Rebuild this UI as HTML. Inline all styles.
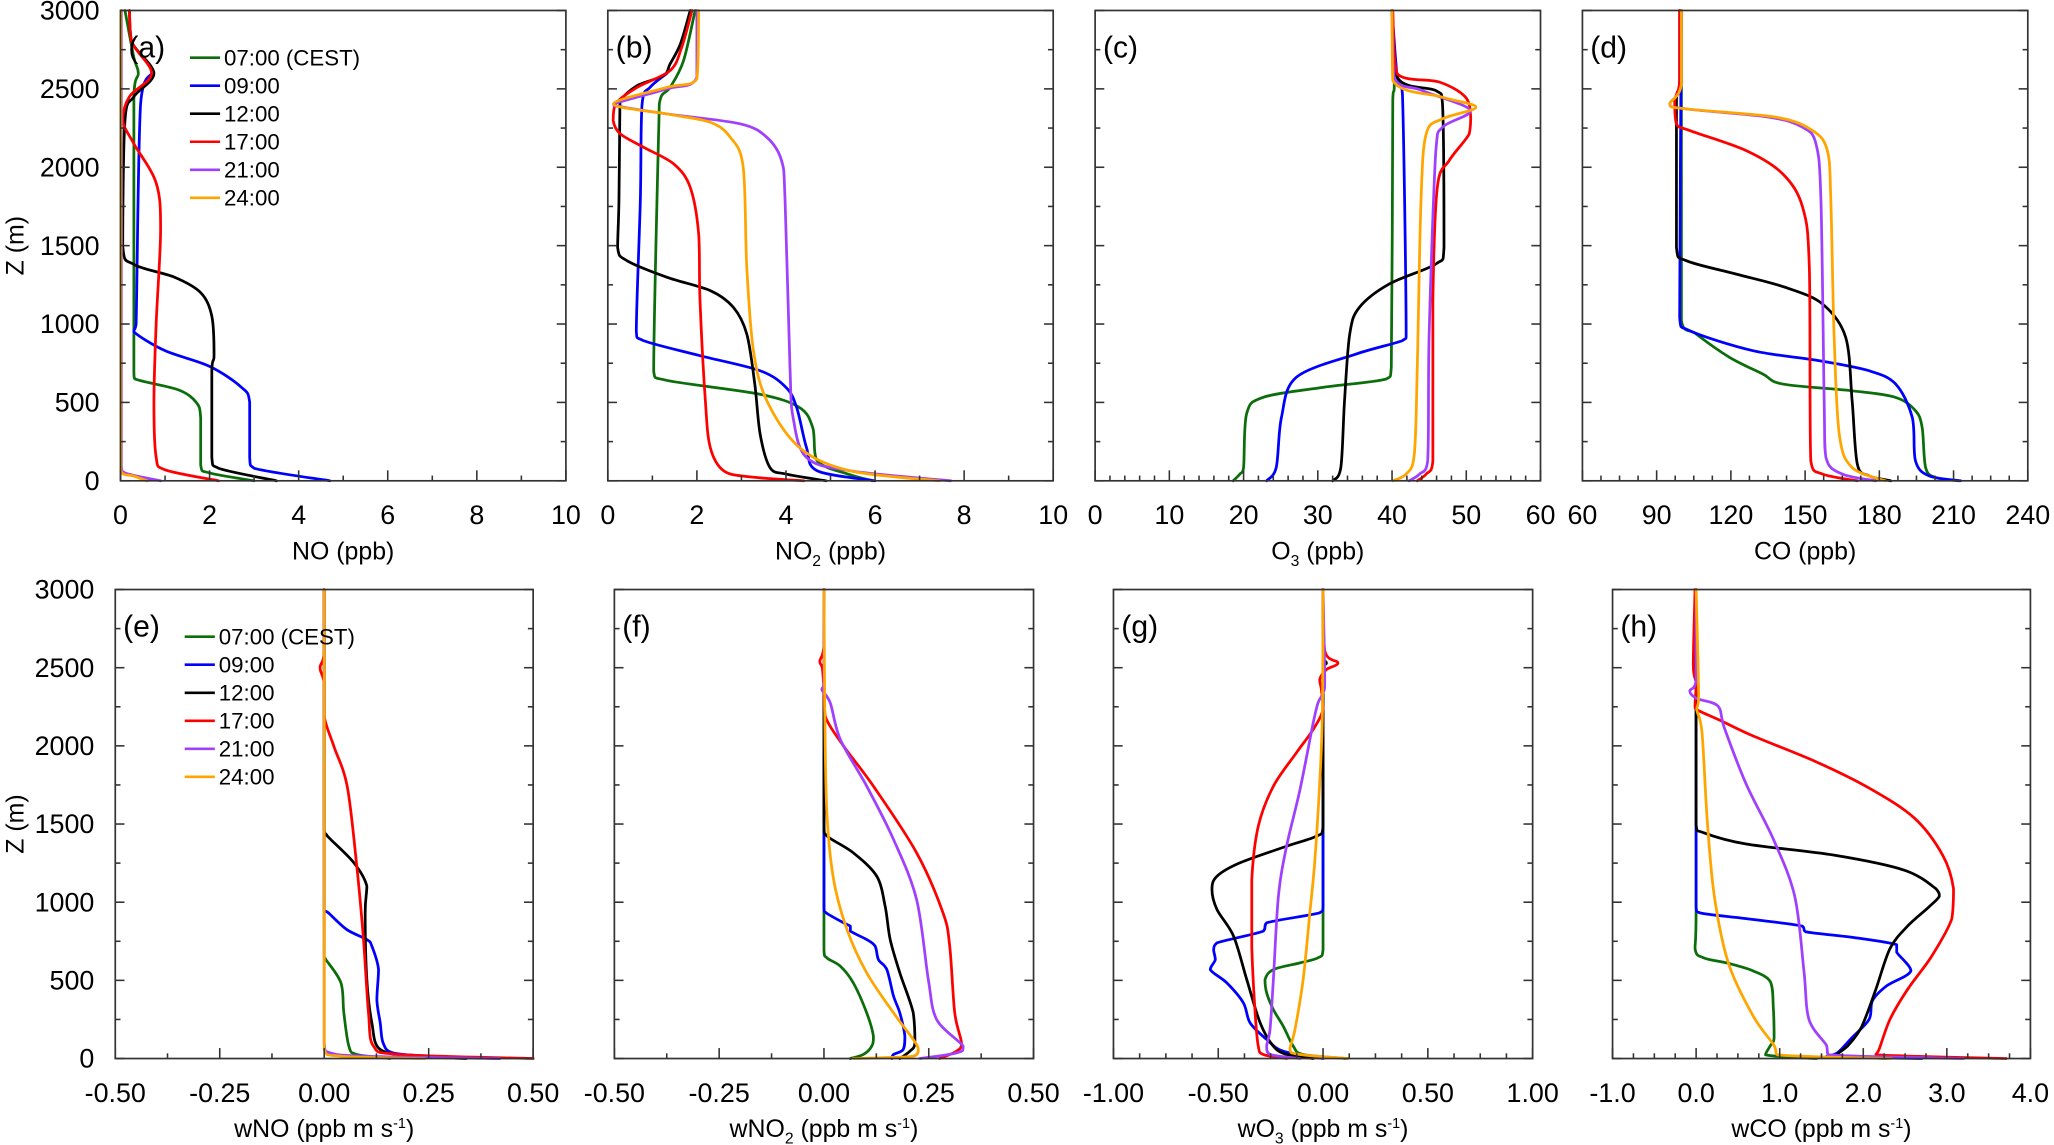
<!DOCTYPE html>
<html><head><meta charset="utf-8"><style>
html,body{margin:0;padding:0;background:#fff;}
svg{display:block;}
text{font-family:"Liberation Sans",Arial,sans-serif;fill:#000;}
</style></head><body>
<svg id="fig" width="2054" height="1145" viewBox="0 0 1568 874" preserveAspectRatio="none" xmlns="http://www.w3.org/2000/svg"></svg>
<script>
// ===== data: [value, height (m)] =====
const a_0700=[[0.1,3000],[0.3,2700],[0.4,2600],[0.3,2450],[0.3,700],[0.32,650],[1.3,580],[1.7,500],[1.8,400],[1.8,100],[2.0,50],[3.0,0]];
const a_0900=[[0.7,2600],[0.45,2400],[0.35,1000],[0.3,950],[1.0,830],[2.0,730],[2.7,600],[2.9,500],[2.9,150],[3.0,80],[4.7,0]];
const a_1200=[[0.2,3000],[0.25,2800],[0.75,2600],[0.3,2450],[0.1,2300],[0.05,1500],[0.3,1380],[1.2,1300],[1.8,1200],[2.05,1050],[2.1,800],[2.05,700],[2.05,150],[2.2,80],[3.5,0]];
const a_1700=[[0.2,3000],[0.25,2800],[0.7,2600],[0.2,2450],[0.05,2300],[0.3,2150],[0.8,1900],[0.9,1600],[0.8,1000],[0.75,500],[0.8,150],[1.0,70],[2.2,0]];
const a_2100=[[0.02,3000],[0.02,100],[0.1,50],[0.9,0]];
const a_2400=[[0.01,3000],[0.01,60],[0.3,30],[0.6,0]];

const b_0700=[[1.96,3000],[1.7,2680],[1.4,2510],[1.18,2436],[1.14,2213],[1.03,700],[1.33,640],[3.4,553],[4.3,468],[4.6,340],[4.7,128],[5.4,42],[5.95,0]];
const b_0900=[[1.33,2600],[0.95,2510],[0.77,2404],[0.73,1787],[0.64,957],[0.8,894],[2.07,798],[3.42,702],[4.0,596],[4.24,468],[4.46,213],[4.7,64],[6.0,0]];
const b_1200=[[1.85,3000],[1.63,2787],[1.4,2660],[1.25,2585],[0.66,2521],[0.28,2426],[0.27,2362],[0.25,1787],[0.22,1489],[0.43,1404],[1.33,1298],[2.3,1213],[2.82,1106],[3.12,936],[3.3,617],[3.42,298],[3.64,85],[4.0,43],[4.9,0]];
const b_1700=[[1.89,3000],[1.66,2766],[1.4,2617],[0.66,2510],[0.17,2404],[0.12,2298],[0.28,2213],[0.8,2128],[1.48,2021],[1.85,1872],[2.04,1574],[2.07,1149],[2.19,511],[2.3,213],[2.6,64],[3.2,25],[4.4,0]];
const b_2100=[[2.0,3000],[2.0,2574],[1.33,2500],[0.13,2404],[0.36,2383],[1.33,2340],[2.97,2277],[3.57,2191],[3.9,2043],[3.98,1787],[4.09,723],[4.16,404],[4.46,149],[5.43,64],[7.7,0]];
const b_2400=[[2.04,3000],[2.0,2564],[1.33,2510],[0.13,2404],[1.33,2340],[2.3,2287],[2.75,2191],[3.04,2000],[3.12,1362],[3.27,830],[3.57,511],[4.3,213],[5.43,64],[7.45,0]];

const c_0700=[[40,3000],[40.3,2532],[40.1,2426],[39.9,723],[39.2,649],[30.7,596],[22.6,532],[20.4,426],[20.0,85],[19.5,43],[18.6,0]];
const c_0900=[[40,3000],[40.7,2574],[41.4,2468],[41.9,936],[41.4,894],[35.2,809],[27.1,660],[25.1,404],[24.4,85],[23.1,0]];
const c_1200=[[40,3000],[40.7,2574],[45.9,2489],[46.8,2404],[47.0,1489],[45.9,1383],[39.6,1255],[35.6,1106],[34.3,936],[33.6,511],[33.1,85],[32.0,0]];
const c_1700=[[40.1,3000],[40.7,2596],[46.4,2543],[49.9,2447],[50.6,2319],[50.4,2213],[47.7,2043],[46.1,1872],[45.5,1149],[45.5,128],[44.6,43],[43.4,0]];
const c_2100=[[40,3000],[40.3,2574],[44.1,2489],[50.6,2362],[46.8,2255],[45.9,2106],[45.0,936],[44.8,128],[43.7,43],[42.3,0]];
const c_2400=[[40,3000],[40.1,2553],[46.8,2447],[51.3,2383],[46.8,2309],[44.6,2213],[43.9,1787],[43.4,723],[43.0,170],[41.9,43],[40.1,0]];

const d_0700=[[100,3000],[100,1021],[106,936],[119.5,787],[132.9,681],[141,617],[169,574],[186.6,532],[194.6,447],[197.3,340],[198.7,85],[202.7,21],[212,0]];
const d_0900=[[100,3000],[99.3,1043],[103.4,957],[128.9,830],[155.7,766],[175.8,702],[186.6,617],[193.3,404],[194.6,128],[200,32],[212.8,0]];
const d_1200=[[99.3,3000],[99.3,2532],[98,2426],[98,1489],[102,1404],[122,1319],[142,1234],[157,1128],[166.4,915],[169,511],[171.1,106],[175.8,32],[184.6,0]];
const d_1700=[[99.3,3000],[99.3,2553],[97.3,2426],[98,2277],[103.4,2234],[126.2,2106],[141,1957],[149,1745],[151.7,1362],[152.3,128],[157,43],[171,0]];
const d_2100=[[100,3000],[100,2532],[95.3,2404],[102,2372],[135.6,2319],[149,2255],[154.4,2149],[156.4,1787],[157.7,511],[158.4,149],[165,43],[178.5,0]];
const d_2400=[[100,3000],[100,2532],[95.3,2404],[102,2372],[138.3,2319],[153,2234],[159,2106],[160.4,1787],[161.7,936],[163.8,298],[169,85],[182.5,0]];

const e_0700=[[0,3000],[0,655],[0.004,633],[0.04,484],[0.047,292],[0.059,79],[0.078,26],[0.158,0]];
const e_0900=[[0,3000],[0,953],[0.01,932],[0.054,825],[0.102,761],[0.114,719],[0.13,569],[0.126,377],[0.134,228],[0.141,100],[0.165,36],[0.26,15],[0.42,0]];
const e_1200=[[0,3000],[0,1465],[0.008,1422],[0.071,1252],[0.102,1102],[0.098,932],[0.102,505],[0.114,228],[0.134,58],[0.22,15],[0.34,0]];
const e_1700=[[0,3000],[0,2600],[-0.01,2500],[0,2400],[0,2190],[0.023,1998],[0.055,1742],[0.078,1230],[0.094,761],[0.106,292],[0.118,79],[0.18,26],[0.5,0]];
const e_2100=[[0,3000],[0,100],[0.015,36],[0.1,15],[0.42,0]];
const e_2400=[[0,3000],[0,60],[0.04,15],[0.24,0]];

const f_0700=[[0,3000],[0,697],[0.007,644],[0.039,591],[0.07,484],[0.102,292],[0.118,143],[0.114,79],[0.094,26],[0.063,0]];
const f_0900=[[0,3000],[0,964],[0.005,932],[0.047,868],[0.063,846],[0.063,815],[0.102,761],[0.122,719],[0.13,633],[0.15,569],[0.166,399],[0.181,292],[0.193,143],[0.189,58],[0.166,26],[0.162,0]];
const f_1200=[[0,3000],[0,1486],[0.008,1422],[0.07,1316],[0.126,1166],[0.146,974],[0.158,761],[0.181,548],[0.213,292],[0.217,100],[0.205,47],[0.181,0]];
const f_1700=[[0,3000],[0,2640],[-0.01,2541],[-0.004,2498],[0,2360],[0.003,2190],[0.047,1998],[0.118,1742],[0.221,1316],[0.284,932],[0.3,719],[0.312,292],[0.328,100],[0.316,47],[0.276,0]];
const f_2100=[[0,3000],[0,2400],[-0.005,2360],[0.015,2275],[0.039,2041],[0.102,1742],[0.166,1401],[0.221,1017],[0.249,505],[0.269,249],[0.332,79],[0.316,36],[0.229,0]];
const f_2400=[[0,3000],[0.002,2211],[0.007,1571],[0.023,1145],[0.055,825],[0.102,548],[0.166,292],[0.213,122],[0.225,58],[0.213,15],[0.07,0]];

const g_0700=[[0,3000],[0,697],[-0.024,644],[-0.11,612],[-0.237,569],[-0.277,505],[-0.269,420],[-0.237,313],[-0.19,207],[-0.142,79],[-0.095,26],[0.11,0]];
const g_0900=[[0,3000],[0,974],[-0.016,932],[-0.269,868],[-0.285,815],[-0.506,740],[-0.522,697],[-0.514,633],[-0.538,569],[-0.459,484],[-0.38,356],[-0.348,228],[-0.269,122],[-0.19,47],[0,0]];
const g_1200=[[0,3000],[0,2580],[0.016,2531],[0,2488],[0,1486],[-0.032,1422],[-0.174,1358],[-0.396,1252],[-0.506,1166],[-0.53,1081],[-0.506,953],[-0.427,783],[-0.364,505],[-0.3,228],[-0.237,79],[-0.174,26],[-0.047,0]];
const g_1700=[[0,3000],[0.008,2610],[0.071,2531],[0.016,2488],[-0.016,2424],[-0.008,2360],[0,2233],[-0.047,2105],[-0.127,1956],[-0.237,1742],[-0.309,1486],[-0.34,1145],[-0.34,719],[-0.324,292],[-0.309,79],[-0.285,26],[-0.174,0]];
const g_2100=[[0,3000],[0.008,2424],[0,2339],[-0.024,2275],[-0.047,2147],[-0.11,1720],[-0.174,1358],[-0.213,1038],[-0.237,505],[-0.253,185],[-0.269,79],[-0.253,26],[-0.11,0]];
const g_2400=[[0,3000],[-0.003,2211],[-0.016,1763],[-0.04,1252],[-0.063,932],[-0.095,505],[-0.134,185],[-0.158,58],[-0.11,26],[0.119,0]];

const h_0700=[[0,3000],[0,967],[-0.013,704],[0.092,644],[0.387,609],[0.68,561],[0.89,489],[0.924,322],[0.933,131],[0.89,84],[0.83,24],[1.44,0]];
const h_0900=[[0,3000],[0,967],[0.05,931],[0.6,895],[1.27,847],[1.31,811],[1.86,776],[2.4,728],[2.4,680],[2.57,561],[2.28,465],[2.11,370],[2.07,251],[1.86,131],[1.69,36],[1.56,12],[2.7,0]];
const h_1200=[[0,3000],[0,1492],[0.092,1444],[0.6,1372],[1.65,1301],[2.49,1205],[2.87,1086],[2.91,1038],[2.78,967],[2.53,847],[2.32,704],[2.15,442],[1.98,203],[1.82,84],[1.69,24],[2.28,0]];
const h_1700=[[-0.013,3000],[-0.034,2518],[0,2399],[-0.013,2255],[0.008,2231],[0.3,2160],[0.68,2064],[1.44,1897],[2.07,1730],[2.61,1539],[2.95,1301],[3.08,1086],[3.06,895],[2.82,656],[2.53,442],[2.32,251],[2.19,60],[2.15,24],[3.71,0]];
const h_2100=[[0,3000],[0,2422],[-0.076,2351],[0.008,2303],[0.26,2255],[0.34,2112],[0.6,1754],[0.93,1396],[1.18,1038],[1.29,561],[1.35,251],[1.56,84],[1.58,24],[3.2,0]];
const h_2400=[[0,3000],[0.03,2327],[0.008,2231],[0.07,2088],[0.134,1516],[0.218,1038],[0.387,609],[0.68,274],[0.933,84],[0.975,24],[2.34,0]];

const seriesNames=["07:00 (CEST)","09:00","12:00","17:00","21:00","24:00"];
const seriesColors=["#0b6e0b","#0000ff","#000000","#ff0000","#a040ff","#ffa500"];
const yTicks=[0,500,1000,1500,2000,2500,3000];
const ticksA=[0,2,4,6,8,10];
const ticksC=[0,10,20,30,40,50,60];
const ticksD=[60,90,120,150,180,210,240];
const ticksE=["-0.50","-0.25","0.00","0.25","0.50"];
const ticksG=["-1.00","-0.50","0.00","0.50","1.00"];
const ticksH=["-1.0","0.0","1.0","2.0","3.0","4.0"];

// ===== layout =====
const panels=[
 {id:"a",x0:92,x1:432,y0:8,y1:367,min:0,max:10,ticks:ticksA,minor:1,series:[a_0700,a_0900,a_1200,a_1700,a_2100,a_2400],title:"NO (ppb)",legend:true,ylab:true},
 {id:"b",x0:464,x1:804,y0:8,y1:367,min:0,max:10,ticks:ticksA,minor:1,series:[b_0700,b_0900,b_1200,b_1700,b_2100,b_2400],title:'NO<tspan font-size="12" dy="5">2</tspan><tspan dy="-5"> (ppb)</tspan>'},
 {id:"c",x0:836,x1:1176,y0:8,y1:367,min:0,max:60,ticks:ticksC,minor:2,series:[c_0700,c_0900,c_1200,c_1700,c_2100,c_2400],title:'O<tspan font-size="12" dy="5">3</tspan><tspan dy="-5"> (ppb)</tspan>'},
 {id:"d",x0:1208,x1:1548,y0:8,y1:367,min:60,max:240,ticks:ticksD,minor:7.5,series:[d_0700,d_0900,d_1200,d_1700,d_2100,d_2400],title:"CO (ppb)"},
 {id:"e",x0:88,x1:407,y0:450,y1:808,min:-0.5,max:0.5,ticks:ticksE,minor:0.125,series:[e_0700,e_0900,e_1200,e_1700,e_2100,e_2400],title:'wNO (ppb m s<tspan font-size="11" dy="-7">-1</tspan><tspan dy="7">)</tspan>',legend:true,ylab:true},
 {id:"f",x0:469,x1:789,y0:450,y1:808,min:-0.5,max:0.5,ticks:ticksE,minor:0.125,series:[f_0700,f_0900,f_1200,f_1700,f_2100,f_2400],title:'wNO<tspan font-size="12" dy="5">2</tspan><tspan dy="-5"> (ppb m s</tspan><tspan font-size="11" dy="-7">-1</tspan><tspan dy="7">)</tspan>'},
 {id:"g",x0:850,x1:1170,y0:450,y1:808,min:-1,max:1,ticks:ticksG,minor:0.125,series:[g_0700,g_0900,g_1200,g_1700,g_2100,g_2400],title:'wO<tspan font-size="12" dy="5">3</tspan><tspan dy="-5"> (ppb m s</tspan><tspan font-size="11" dy="-7">-1</tspan><tspan dy="7">)</tspan>'},
 {id:"h",x0:1231,x1:1550,y0:450,y1:808,min:-1,max:4,ticks:ticksH,minor:0.25,series:[h_0700,h_0900,h_1200,h_1700,h_2100,h_2400],title:'wCO (ppb m s<tspan font-size="11" dy="-7">-1</tspan><tspan dy="7">)</tspan>'}
];
const NS="http://www.w3.org/2000/svg";
const svg=document.getElementById("fig");
function mk(tag,attrs,parent){const e=document.createElementNS(NS,tag);for(const k in attrs)e.setAttribute(k,attrs[k]);(parent||svg).appendChild(e);return e;}
function clamp(v,a,b){const lo=Math.min(a,b),hi=Math.max(a,b);return Math.max(lo,Math.min(hi,v));}
function smoothPath(pts){
  const k=0.16;
  let d="M"+pts[0][0].toFixed(2)+","+pts[0][1].toFixed(2);
  for(let i=0;i<pts.length-1;i++){
    const p0=pts[Math.max(0,i-1)],p1=pts[i],p2=pts[i+1],p3=pts[Math.min(pts.length-1,i+2)];
    const c1x=clamp(p1[0]+(p2[0]-p0[0])*k,p1[0],p2[0]),c1y=clamp(p1[1]+(p2[1]-p0[1])*k,p1[1],p2[1]);
    const c2x=clamp(p2[0]-(p3[0]-p1[0])*k,p1[0],p2[0]),c2y=clamp(p2[1]-(p3[1]-p1[1])*k,p1[1],p2[1]);
    d+=" C"+c1x.toFixed(2)+","+c1y.toFixed(2)+" "+c2x.toFixed(2)+","+c2y.toFixed(2)+" "+p2[0].toFixed(2)+","+p2[1].toFixed(2);
  }
  return d;
}

panels.forEach(p=>{
  const g=mk("g",{});
  
  
  const xs=v=>p.x0+(v-p.min)/(p.max-p.min)*(p.x1-p.x0);
  const ys=z=>p.y1-z/3000*(p.y1-p.y0);
  p.series.forEach((s,i)=>{
    const pts=s.map(d=>[xs(d[0]),ys(d[1])]);
    const pl=mk("path",{d:smoothPath(pts),fill:"none",stroke:seriesColors[i],"stroke-width":"2.1","stroke-linejoin":"round","stroke-linecap":"round"},g);
    
    
  });
  const fr=mk("rect",{x:p.x0,y:p.y0,width:p.x1-p.x0,height:p.y1-p.y0,fill:"none",stroke:"#333","stroke-width":"1.3"},g);
  
  
  for(let z=0;z<=3000;z+=250){
    const L=(z%500===0)?7:4, y=ys(z);
    mk("line",{x1:p.x0,x2:p.x0+L,y1:y,y2:y,stroke:"#333","stroke-width":"1.2"},g);
    mk("line",{x1:p.x1,x2:p.x1-L,y1:y,y2:y,stroke:"#333","stroke-width":"1.2"},g);
  }
  if(p.ylab){
    yTicks.forEach(z=>{
      const t=mk("text",{x:p.x0-16,y:ys(z)+7,"text-anchor":"end","font-size":"20.5"},g);
      t.textContent=z;
      
      
    });
    const yl=mk("text",{x:0,y:0,transform:"translate(18,"+((p.y0+p.y1)/2)+") rotate(-90)","text-anchor":"middle","font-size":"19"},g);
    yl.textContent="Z (m)";
    
    
  }
  const majors=p.ticks.map(Number);
  const step=majors[1]-majors[0];
  for(let v=p.min;v<=p.max+1e-9;v+=p.minor){
    const isMaj=Math.abs((v-p.min)/step-Math.round((v-p.min)/step))<1e-6;
    const x=xs(v);
    mk("line",{x1:x,x2:x,y1:p.y1,y2:p.y1-(isMaj?8:4),stroke:"#333","stroke-width":"1.2"},g);
  }
  p.ticks.forEach(v=>{
    const t=mk("text",{x:xs(Number(v)),y:p.y1+33,"text-anchor":"middle","font-size":"20.5"},g);
    t.textContent=v;
    
    
  });
  const xt=mk("text",{x:(p.x0+p.x1)/2,y:p.y1+60,"text-anchor":"middle","font-size":"19"},g);
  xt.innerHTML=p.title;
  
  
  const pl=mk("text",{x:p.x0+6,y:p.y0+36,"font-size":"23"},g);
  pl.textContent="("+p.id+")";
  
  
  if(p.legend){
    const lg=mk("g",{},g);
    
    
    const lx=p.x0+53, ly=p.y0+36;
    seriesNames.forEach((n,i)=>{
      const y=ly+i*21.4;
      const ln=mk("line",{x1:lx,x2:lx+23,y1:y,y2:y,stroke:seriesColors[i],"stroke-width":"2"},lg);
      
      
      const t=mk("text",{x:lx+26,y:y+6,"font-size":"17"},lg);
      t.textContent=n;
      
      
    });
  }
});
</script>
</body></html>
